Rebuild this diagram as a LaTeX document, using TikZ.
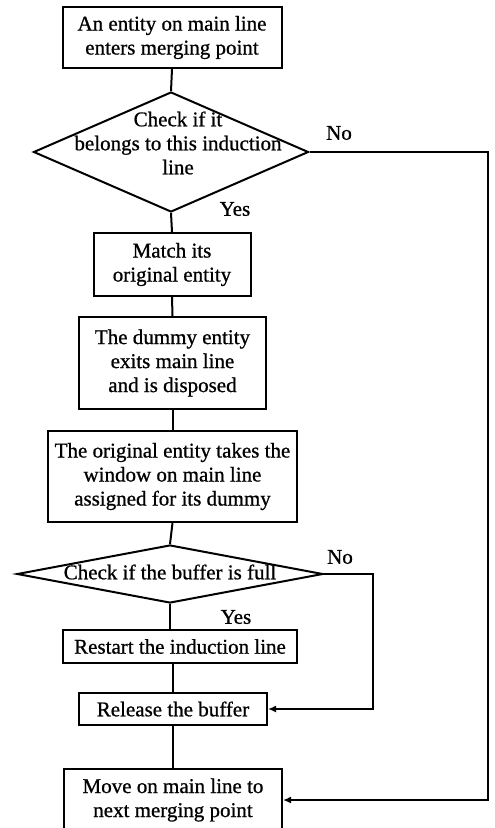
\documentclass[tikz,border=0pt]{standalone}
\usepackage{fontspec}
\setmainfont{Liberation Serif}[FakeBold=0.8]
\usetikzlibrary{shapes.geometric,arrows.meta}
\begin{document}
\begin{tikzpicture}[x=1pt,y=-1pt,
  txt/.style={font=\fontsize{21}{24}\selectfont,align=center,inner sep=0pt},
  box/.style={txt,draw,line width=2pt,rectangle},
  dia/.style={draw,line width=2pt,diamond,inner sep=0pt},
  conn/.style={line width=2pt},
  arr/.style={line width=2pt,-{Latex[length=8pt,width=7pt]}}]
\useasboundingbox (0,0) rectangle (495,828);
% boxes
\node[box,minimum width=219pt,minimum height=61pt] (b1) at (172,37.5) {An entity on main line\\enters merging point};
\node[dia,minimum width=275pt,minimum height=120pt] (d1) at (171,152) {};
\node[txt] (t1) at (178,143) {Check if it\\belongs to this induction\\line};
\node[box,minimum width=157pt,minimum height=63pt] (b2) at (172,264.5) {Match its\\original entity};
\node[box,minimum width=187pt,minimum height=92pt] (b3) at (172.5,363) {The dummy entity\\exits main line\\and is disposed};
\node[box,minimum width=249pt,minimum height=91pt] (b4) at (172.5,476.5) {The original entity takes the\\window on main line\\assigned for its dummy};
\node[dia,minimum width=306pt,minimum height=58pt] (d2) at (170,574) {};
\node[txt] (t2) at (170,572) {Check if the buffer is full};
\node[box,minimum width=234pt,minimum height=33pt] (b5) at (180,646.5) {Restart the induction line};
\node[box,minimum width=188pt,minimum height=32pt] (b6) at (173,709) {Release the buffer};
\node[box,minimum width=218pt,minimum height=62pt] (b7) at (173,800) {Move on main line to\\next merging point};
% labels
\node[txt] (no1) at (339,133) {No};
\node[txt] (yes1) at (235,209) {Yes};
\node[txt] (no2) at (340,557) {No};
\node[txt] (yes2) at (236,617) {Yes};
% routing points
\coordinate (r1) at (488,152);
\coordinate (r2) at (373,574);
% connectors
\draw[conn] (b1.south) -- (d1.north);
\draw[conn] (d1.south) -- (b2.north);
\draw[conn] (b2.south) -- (b3.north);
\draw[conn] (b3.south) -- (b4.north);
\draw[conn] (b4.south) -- (d2.north);
\draw[conn] (d2.south) -- (d2.south |- b5.north);
\draw[conn] (b6.north |- b5.south) -- (b6.north);
\draw[conn] (b6.south) -- (b7.north);
\draw[arr] (d1.east) -- (r1) |- (b7.east);
\draw[arr] (d2.east) -- (r2) |- (b6.east);
\end{tikzpicture}
\end{document}
